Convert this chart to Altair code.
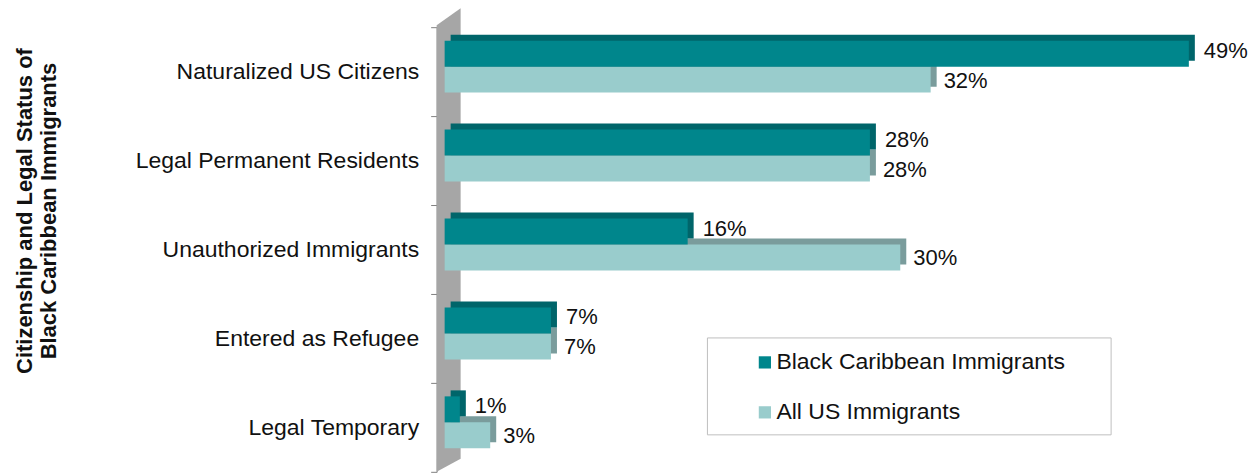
import altair as alt
import pandas as pd

categories = ["Naturalized US Citizens", "Legal Permanent Residents", "Unauthorized Immigrants",
              "Entered as Refugee", "Legal Temporary"]
black_caribbean = [49, 28, 16, 7, 1]
all_us = [32, 28, 30, 7, 3]
series_names = ["Black Caribbean Immigrants", "All US Immigrants"]
axis_title = "Citizenship and Legal Status of\nBlack Caribbean Immigrants"

DARK = "#00868C"
DARK_SIDE = "#00656A"
LIGHT = "#99CCCC"
LIGHT_SIDE = "#7A9C9C"
FONT = "Liberation Sans"
TXT = "#111111"

rows = []
for c, a, b in zip(categories, black_caribbean, all_us):
    rows.append({"cat": c, "series": series_names[0], "value": a, "label": f"{a}%"})
    rows.append({"cat": c, "series": series_names[1], "value": b, "label": f"{b}%"})
df = pd.DataFrame(rows)

xs = alt.Scale(domain=[0, 50])
base = alt.Chart(df)

y_enc = alt.Y("cat:N", sort=categories, title=None,
              scale=alt.Scale(paddingInner=0, paddingOuter=0),
              axis=alt.Axis(domain=True, domainColor="#7F7F7F", ticks=True, tickColor="#7F7F7F",
                            tickSize=6, tickBand="extent", offset=8, labelPadding=12,
                            labelFontSize=23, labelFont=FONT, labelColor=TXT, labelLimit=400,
                            grid=False))
x_enc = alt.X("value:Q", scale=xs, axis=None)

color_enc = alt.Color("series:N",
                      scale=alt.Scale(domain=series_names, range=[DARK, LIGHT]),
                      legend=alt.Legend(title=None, orient="none", legendX=309, legendY=324,
                                        symbolType="square", symbolSize=150, symbolStrokeWidth=0,
                                        labelFontSize=23, labelFont=FONT, labelColor=TXT,
                                        labelOffset=0, labelLimit=400, rowPadding=26, padding=0))

# axis wall (decoration)
wall_df = pd.DataFrame({"px": [-8, 16], "top": [-2, -19], "bot": [445, 432]})
wall = alt.Chart(wall_df).mark_area(color="#A6A6A6", orient="vertical").encode(
    x=alt.X("px:Q", scale=None, axis=None),
    y=alt.Y("top:Q", scale=None, axis=None),
    y2="bot:Q",
)

light = base.transform_filter(alt.datum.series == series_names[1])
dark = base.transform_filter(alt.datum.series == series_names[0])

light_side = light.mark_bar(height=26, yOffset=2, xOffset=6, color=LIGHT_SIDE).encode(
    x=x_enc, y=y_enc)
light_main = light.mark_bar(height=26, yOffset=8).encode(x=x_enc, y=y_enc, color=color_enc)
dark_side = dark.mark_bar(height=26, yOffset=-24, xOffset=6, color=DARK_SIDE).encode(
    x=x_enc, y=y_enc)
dark_main = dark.mark_bar(height=26, yOffset=-18).encode(x=x_enc, y=y_enc, color=color_enc)

light_lab = light.mark_text(align="left", baseline="middle", dx=13, yOffset=9, fontSize=22,
                            font=FONT, color=TXT).encode(x=x_enc, y=y_enc, text="label:N")
dark_lab = dark.mark_text(align="left", baseline="middle", dx=15, yOffset=-21, fontSize=22,
                          font=FONT, color=TXT).encode(x=x_enc, y=y_enc, text="label:N")

one = pd.DataFrame({"t": [axis_title]})
title = alt.Chart(one).mark_text(angle=270, align="center", baseline="middle", fontSize=22,
                                 fontWeight="bold", font=FONT, color=TXT,
                                 lineBreak="\n", lineHeight=24).encode(
    x=alt.value(-420), y=alt.value(184), text="t:N")

box = alt.Chart(one).mark_rect(fill="white", stroke="#BFBFBF", strokeWidth=1).encode(
    x=alt.value(263), x2=alt.value(667), y=alt.value(311), y2=alt.value(408))

chart = alt.layer(wall, light_side, light_main, dark_side, dark_main, light_lab, dark_lab,
                  title, box).properties(
    width=760, height=445,
    padding={"left": 437, "top": 19, "right": 45, "bottom": 5},
    autosize=alt.AutoSizeParams(type="none"),
).configure_view(stroke=None)

chart.save("out.html", embed_options={"renderer": "svg", "actions": False})
